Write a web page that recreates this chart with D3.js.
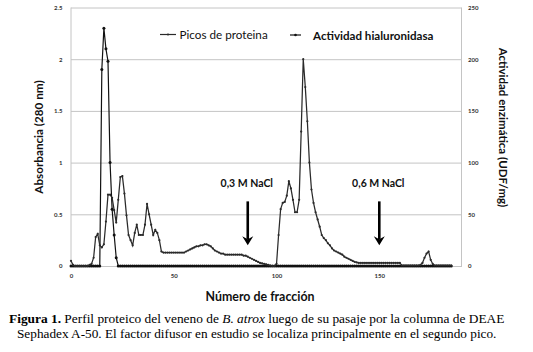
<!DOCTYPE html>
<html><head><meta charset="utf-8">
<script src="https://cdn.jsdelivr.net/npm/d3@7/dist/d3.min.js"></script>
<style>body{margin:0;background:#fff}svg{display:block}</style>
</head><body>
<svg id="c" width="533" height="352"></svg>
<script>
// ---- data ----
const fractions = d3.range(0, 186);
const proteinAbsorbance = [
  0.05,0.01,0,0,0,0,0,0,0,0.01,
  0.02,0.08,0.28,0.31,0.20,0.18,0.21,0.43,0.69,0.69,
  0.66,0.54,0.42,0.64,0.86,0.87,0.70,0.49,0.30,0.25,
  0.20,0.32,0.40,0.30,0.30,0.30,0.40,0.60,0.50,0.40,
  0.30,0.35,0.32,0.25,0.14,0.13,0.13,0.13,0.13,0.13,
  0.13,0.13,0.13,0.13,0.13,0.13,0.14,0.15,0.16,0.17,
  0.18,0.19,0.19,0.20,0.20,0.21,0.21,0.20,0.19,0.17,
  0.15,0.14,0.13,0.12,0.12,0.11,0.11,0.11,0.11,0.11,
  0.11,0.11,0.11,0.11,0.10,0.10,0.09,0.08,0.07,0.06,
  0.05,0.04,0.03,0.025,0.02,0.015,0.01,0.005,0,0,
  0.02,0.30,0.55,0.61,0.62,0.68,0.82,0.75,0.64,0.52,
  0.52,0.64,1.30,2.00,1.73,1.40,1.00,0.74,0.61,0.52,
  0.45,0.38,0.30,0.27,0.25,0.22,0.20,0.17,0.15,0.14,
  0.13,0.12,0.11,0.09,0.08,0.07,0.06,0.05,0.04,0.035,
  0.03,0.03,0.03,0.03,0.03,0.03,0.03,0.03,0.03,0.03,
  0.03,0.03,0.03,0.03,0.03,0.03,0.03,0.03,0.03,0.03,
  0.03,0.005,0.005,0.005,0.005,0.005,0.005,0.005,0.005,0.005,
  0.01,0.03,0.08,0.12,0.14,0.06,0.02,0.005,0.005,0.005,
  0.005,0.005,0.005,0.005,0.005,0.005
];
const activityUDF = [
  0,0,0,0,0,0,0,0,0,0,
  0,0,0,0,0,190,230,210,198,100,
  55,30,8,0,0,0,0,0,0,0,
  0,0,0,0,0,0,0,0,0,0,
  0,0,0,0,0,0,0,0,0,0,
  0,0,0,0,0,0,0,0,0,0,
  0,0,0,0,0,0,0,0,0,0,
  0,0,0,0,0,0,0,0,0,0,
  0,0,0,0,0,0,0,0,0,0,
  0,0,0,0,0,0,0,0,0,0,
  0,0,0,0,0,0,0,0,0,0,
  0,0,0,0,0,0,0,0,0,0,
  0,0,0,0,0,0,0,0,0,0,
  0,0,0,0,0,0,0,0,0,0,
  0,0,0,0,0,0,0,0,0,0,
  0,0,0,0,0,0,0,0,0,0,
  0,0,0,0,0,0,0,0,0,0,
  0,0,0,0,0,0,0,0,0,0,
  0,0,0,0,0,0
];
const leftTicks = [0, 0.5, 1, 1.5, 2, 2.5];
const leftTickLabels = ["0", "0.5", "1", "1.5", "2", "2.5"];
const rightTicks = [0, 50, 100, 150, 200, 250];
const xTicks = [0, 50, 100, 150];
const seriesNames = ["Picos de proteina", "Actividad hialuronidasa"];
const arrowFractions = [86, 150];
const arrowLabels = ["0,3 M NaCl", "0,6 M NaCl"];

// ---- layout ----
const svg = d3.select("#c");
const L = 71, R = 461.5, T = 7.5, B = 266;
const x = d3.scaleLinear().domain([0, 190]).range([L, R]);
const yL = d3.scaleLinear().domain([0, 2.5]).range([B, T]);
const yR = d3.scaleLinear().domain([0, 250]).range([B, T]);
const font = "Lato, 'Open Sans', sans-serif";
const grid = "#c4c4c4";

// gridlines + left axis
const gL = svg.append("g").attr("transform", `translate(${L},0)`)
  .call(d3.axisLeft(yL).tickValues(leftTicks).tickSize(-(R - L)).tickPadding(8.5)
    .tickFormat((d, i) => leftTickLabels[i]));
gL.select(".domain").remove();
gL.selectAll(".tick line").attr("stroke", grid);
gL.selectAll("text").attr("font-family", font).attr("font-size", 6).attr("font-weight", "bold").attr("fill", "#333");

// frame lines
svg.append("line").attr("x1", L).attr("x2", L).attr("y1", T).attr("y2", B).attr("stroke", grid);
svg.append("line").attr("x1", R).attr("x2", R).attr("y1", T).attr("y2", B).attr("stroke", grid);

const gR = svg.append("g").attr("transform", `translate(${R},0)`)
  .call(d3.axisRight(yR).tickValues(rightTicks).tickSize(0).tickPadding(6.5));
gR.select(".domain").remove();
gR.selectAll("text").attr("font-family", font).attr("font-size", 6).attr("font-weight", "bold").attr("fill", "#333");

const gB = svg.append("g").attr("transform", `translate(0,${B})`)
  .call(d3.axisBottom(x).tickValues(xTicks).tickSize(0).tickPadding(7.5));
gB.select(".domain").attr("stroke", grid);
gB.selectAll("text").attr("font-family", font).attr("font-size", 6).attr("font-weight", "bold").attr("fill", "#333");

// series
const protein = fractions.map((f, i) => [f, proteinAbsorbance[i]]);
const activity = fractions.map((f, i) => [f, activityUDF[i]]);
const lineP = d3.line().x(d => x(d[0])).y(d => yL(d[1]));
const lineA = d3.line().x(d => x(d[0])).y(d => yR(d[1]));

svg.append("path").attr("d", lineA(activity)).attr("fill", "none").attr("stroke", "#111").attr("stroke-width", 1.2);
svg.append("g").selectAll("circle").data(activity).join("circle")
  .attr("cx", d => x(d[0])).attr("cy", d => yR(d[1])).attr("r", 1.5).attr("fill", "#111");

svg.append("path").attr("d", lineP(protein)).attr("fill", "none").attr("stroke", "#2a2a2a").attr("stroke-width", 1.25);
svg.append("g").selectAll("circle").data(protein).join("circle")
  .attr("cx", d => x(d[0])).attr("cy", d => yL(d[1])).attr("r", 1.1).attr("fill", "#2a2a2a");

// legend
const leg = svg.append("g");
leg.append("line").attr("x1", 160).attr("x2", 176).attr("y1", 34.5).attr("y2", 34.5).attr("stroke", "#2a2a2a").attr("stroke-width", 1.2);
leg.append("circle").attr("cx", 168).attr("cy", 34.5).attr("r", 1.1).attr("fill", "#2a2a2a");
leg.append("text").attr("x", 179.5).attr("y", 38.5).text(seriesNames[0])
  .attr("font-family", font).attr("font-size", 11.7).attr("fill", "#111");
leg.append("line").attr("x1", 290).attr("x2", 301).attr("y1", 35).attr("y2", 35).attr("stroke", "#111").attr("stroke-width", 1.2);
leg.append("circle").attr("cx", 295.5).attr("cy", 35).attr("r", 1.3).attr("fill", "#111");
leg.append("text").attr("x", 313).attr("y", 39.5).text(seriesNames[1])
  .attr("font-family", font).attr("font-size", 11.6).attr("font-weight", "bold").attr("fill", "#111");

// arrows
arrowFractions.forEach((f, i) => {
  const ax = x(f);
  const g = svg.append("g");
  g.append("text").attr("x", ax - 1).attr("y", 187).attr("text-anchor", "middle").text(arrowLabels[i])
    .attr("font-family", font).attr("font-size", 10.5).attr("font-weight", "bold").attr("fill", "#111");
  const y0 = yL(0.625), y1 = yL(0.2);
  g.append("line").attr("x1", ax).attr("x2", ax).attr("y1", y0).attr("y2", y1 - 6).attr("stroke", "#000").attr("stroke-width", 2.6);
  g.append("path").attr("d", `M${ax - 5.5},${y1 - 9} L${ax},${y1} L${ax + 5.5},${y1 - 9} L${ax},${y1 - 6} Z`).attr("fill", "#000");
});

// axis titles
svg.append("text").attr("transform", "translate(43,137) rotate(-90)").attr("text-anchor", "middle")
  .text("Absorbancia (280 nm)").attr("font-family", font).attr("font-size", 11.7).attr("font-weight", "bold").attr("fill", "#111");
svg.append("text").attr("transform", "translate(499,127.5) rotate(90)").attr("text-anchor", "middle")
  .text("Actividad enzimática (UDF/mg)").attr("font-family", font).attr("font-size", 11.5).attr("font-weight", "bold").attr("fill", "#111");
svg.append("text").attr("x", 260).attr("y", 300.5).attr("text-anchor", "middle")
  .text("Número de fracción").attr("font-family", font).attr("font-size", 12.4).attr("font-weight", "bold").attr("fill", "#111");

// caption
const serif = "'Liberation Serif', 'Times New Roman', serif";
function caption(y, parts, targetW, cx) {
  const t = svg.append("text").attr("y", y).attr("font-family", serif).attr("font-size", 13.3).attr("fill", "#000");
  parts.forEach(p => {
    const s = t.append("tspan").text(p.t);
    if (p.b) s.attr("font-weight", "bold");
    if (p.i) s.attr("font-style", "italic");
  });
  const w = t.node().getComputedTextLength();
  const k = targetW / w;
  t.attr("transform", `translate(${cx - targetW / 2},0) scale(${k},1)`).attr("x", 0);
}
caption(323.5, [{t: "Figura 1.", b: true}, {t: " Perfil proteico del veneno de "}, {t: "B. atrox", i: true}, {t: " luego de su pasaje por la columna de DEAE"}], 496, 257);
caption(338.5, [{t: "Sephadex A-50. El factor difusor en estudio se localiza principalmente en el segundo pico."}], 480, 257);
</script>
</body></html>
